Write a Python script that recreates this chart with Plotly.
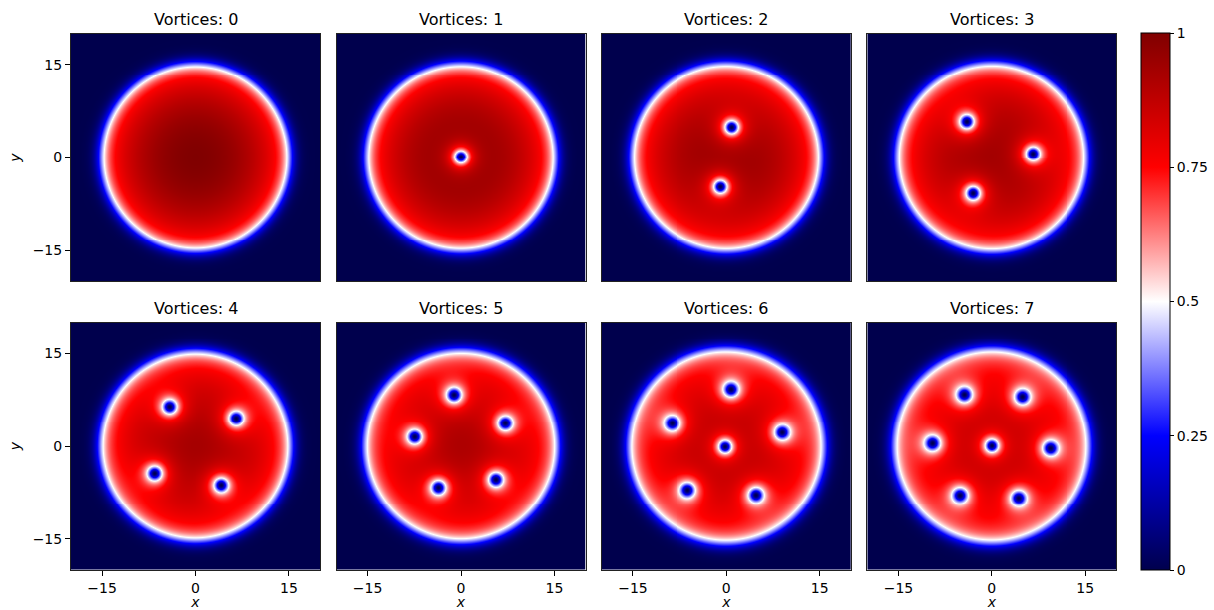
import numpy as np
import plotly.graph_objects as go

# ---- data ----
panel_titles = ["Vortices: 0", "Vortices: 1", "Vortices: 2", "Vortices: 3",
                "Vortices: 4", "Vortices: 5", "Vortices: 6", "Vortices: 7"]
vortex_x = [
    [],
    [0.0],
    [0.9, -0.9],
    [-4.0, 6.6, -3.0],
    [-4.2, 6.6, -6.6, 4.2],
    [-1.1, 7.1, -7.4, -3.6, 5.6],
    [0.8, -8.7, 9.0, -0.15, -6.2, 4.8],
    [-4.4, 4.9, -9.5, 0.0, 9.4, -5.1, 4.3],
]
vortex_y = [
    [],
    [0.1],
    [4.9, -4.75],
    [5.8, 0.6, -5.8],
    [6.4, 4.5, -4.4, -6.3],
    [8.3, 3.7, 1.5, -6.7, -5.4],
    [9.2, 3.7, 2.2, -0.1, -7.1, -7.9],
    [8.35, 8.0, 0.45, 0.05, -0.35, -7.95, -8.4],
]
# radius (in x/y units) where the density colour reaches white (0.5)
white_radius = [14.7, 14.75, 14.8, 14.85, 14.9, 15.05, 15.3, 15.3]
axis_ticks = [-15, 0, 15]
cbar_ticks = [0, 0.25, 0.5, 0.75, 1]
cbar_labels = ["0", "0.25", "0.5", "0.75", "1"]

# ---- density field on a grid ----
N = 250
h = 40.0 / N
grid = np.linspace(-20 + h / 2, 20 - h / 2, N)
X, Y = np.meshgrid(grid, grid)


def background(r):
    c = np.sqrt(np.clip(1 - (r / 20.0) ** 2, 0, None))
    e = 0.5 * (1 + np.tanh((15.35 - r) / 1.25))
    return c * e


def field(vx, vy, wr):
    s = wr / 14.7
    r = np.sqrt(X ** 2 + Y ** 2) / s
    v = background(r)
    for x0, y0 in zip(vx, vy):
        vb = float(background(np.hypot(x0, y0) / s))
        a = 1.0 / max(vb, 0.3)
        d2 = (X - x0) ** 2 + (Y - y0) ** 2
        v = v * (d2 / (d2 + a * a))
    return np.round(v, 3)


seismic = [[0.0, "rgb(0,0,77)"], [0.25, "rgb(0,0,255)"], [0.5, "rgb(255,255,255)"],
           [0.75, "rgb(255,0,0)"], [1.0, "rgb(128,0,0)"]]

W, H = 1214, 610
col_left = [71, 336.5, 601.8, 867.3]
col_w = 249
row_top = [34, 322.7]
row_h = 247

fig = go.Figure()
layout = dict(
    width=W, height=H, margin=dict(l=0, r=0, t=0, b=0, pad=0),
    paper_bgcolor="white", plot_bgcolor="white",
    font=dict(family="DejaVu Sans", size=14, color="black"),
    coloraxis=dict(
        colorscale=seismic, cmin=0, cmax=1,
        colorbar=dict(
            x=1141 / W, xanchor="left", y=1 - (33 + 570) / 2 / H, yanchor="middle",
            len=537 / H, lenmode="fraction", thickness=29, thicknessmode="pixels",
            xpad=0, ypad=0, outlinewidth=1, outlinecolor="black",
            tickvals=cbar_ticks, ticktext=cbar_labels, ticks="outside", ticklen=4,
            tickcolor="black", tickfont=dict(size=14, family="DejaVu Sans"),
        ),
    ),
    annotations=[],
)

for k in range(8):
    row, col = divmod(k, 4)
    z = field(vortex_x[k], vortex_y[k], white_radius[k])
    xa = "x" if k == 0 else f"x{k+1}"
    ya = "y" if k == 0 else f"y{k+1}"
    fig.add_trace(go.Heatmap(x=grid, y=grid, z=z, coloraxis="coloraxis",
                             zsmooth=False, xaxis=xa, yaxis=ya, hoverinfo="skip"))
    x0 = col_left[col] / W
    x1 = (col_left[col] + col_w) / W
    y1 = 1 - row_top[row] / H
    y0 = 1 - (row_top[row] + row_h) / H
    bottom = row == 1
    left = col == 0
    xkey = "xaxis" if k == 0 else f"xaxis{k+1}"
    ykey = "yaxis" if k == 0 else f"yaxis{k+1}"
    layout[xkey] = dict(
        domain=[x0, x1], anchor=ya, range=[-20, 20], tickvals=axis_ticks,
        ticks="outside" if bottom else "", ticklen=5, tickcolor="black",
        showticklabels=bottom, showgrid=False, zeroline=False,
        showline=True, mirror=True, linecolor="#222", linewidth=1,
        tickfont=dict(size=14),
        title=dict(text="<i>x</i>", font=dict(size=14), standoff=4) if bottom else None,
    )
    layout[ykey] = dict(
        domain=[y0, y1], anchor=xa, range=[-20, 20], tickvals=axis_ticks,
        ticks="outside" if left else "", ticklen=5, tickcolor="black",
        showticklabels=left, showgrid=False, zeroline=False,
        showline=True, mirror=True, linecolor="#222", linewidth=1,
        tickfont=dict(size=14),
        title=dict(text="<i>y</i>", font=dict(size=14), standoff=8) if left else None,
    )
    layout["annotations"].append(dict(
        text=panel_titles[k], x=(x0 + x1) / 2, y=y1 + 3 / H, xref="paper", yref="paper",
        xanchor="center", yanchor="bottom", showarrow=False,
        font=dict(size=16, family="DejaVu Sans", color="black"),
    ))

fig.update_layout(**layout)
fig.write_html("out.html")
